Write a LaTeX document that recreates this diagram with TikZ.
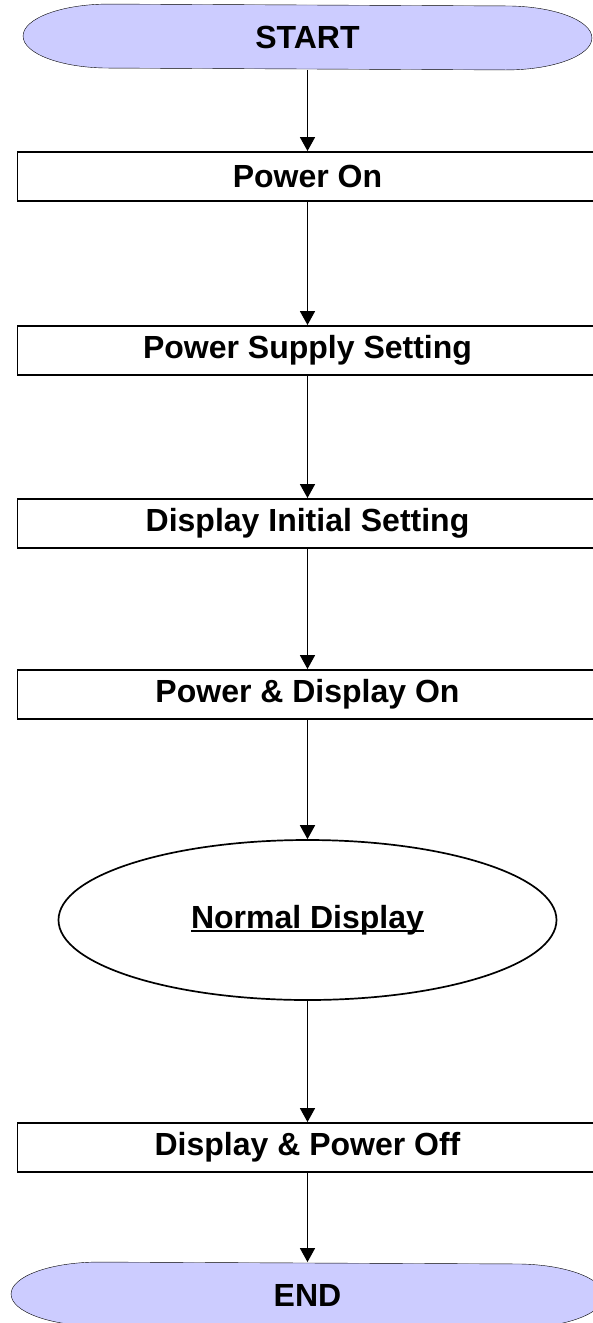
\documentclass[tikz,border=0pt]{standalone}
\usepackage{fontspec}
\setmainfont{Liberation Sans}
\usetikzlibrary{arrows.meta,shapes.geometric,backgrounds}
\definecolor{termfill}{HTML}{CCCCFF}
\newcommand\underl[1]{\sbox0{#1}\rlap{\rule[-3.5pt]{\wd0}{1.5pt}}\usebox0}

\begin{document}
\begin{tikzpicture}[x=1pt,y=-1pt,>={Triangle[width=15pt,length=14pt]},line width=1.9pt,
                    every node/.style={font=\fontsize{32}{38}\selectfont\bfseries},
                    stepbox/.style={rectangle,draw,minimum width=580pt,minimum height=49pt,inner sep=0pt},
                    termnode/.style={rectangle,minimum height=64pt,inner sep=0pt},
                    ovalnode/.style={ellipse,draw,line width=1.7pt,minimum width=498pt,minimum height=160pt,inner sep=0pt},
                    termline/.style={draw,fill=termfill},
                    flow/.style={->,line width=1.7pt}]
  \useasboundingbox (0,0) rectangle (592,1323);
  \node[termnode,minimum width=567pt] (start) at (307.5,37) {START};
  \node[stepbox] (pon) at (307.5,176.5) {Power On};
  \node[stepbox] (psup) at (307.5,350.5) {Power Supply Setting};
  \node[stepbox] (dinit) at (307.5,523.5) {Display Initial Setting};
  \node[stepbox] (pdon) at (307.5,694.5) {Power \& Display On};
  \node[ovalnode] (normal) at (307.5,920) {\underl{Normal Display}};
  \node[stepbox] (dpoff) at (307.5,1147.5) {Display \& Power Off};
  \node[termnode,minimum width=591pt] (stop) at (307.5,1295) {END};
  % rounded ends of start and stop
  \begin{scope}[on background layer]
    \foreach \t/\r in {start/86,stop/88}
      \path[termline] ([xshift=\r pt]\t.north west)
        arc[start angle=90,end angle=270,x radius=\r pt,y radius=32pt]
        -- ([xshift=-\r pt]\t.south east)
        arc[start angle=-90,end angle=90,x radius=\r pt,y radius=32pt] -- cycle;
  \end{scope}
  \foreach \a/\b in {start/pon,pon/psup,psup/dinit,dinit/pdon,pdon/normal,normal/dpoff,dpoff/stop}
    \draw[flow] (\a.south) -- (\b.north);
\end{tikzpicture}
\end{document}
